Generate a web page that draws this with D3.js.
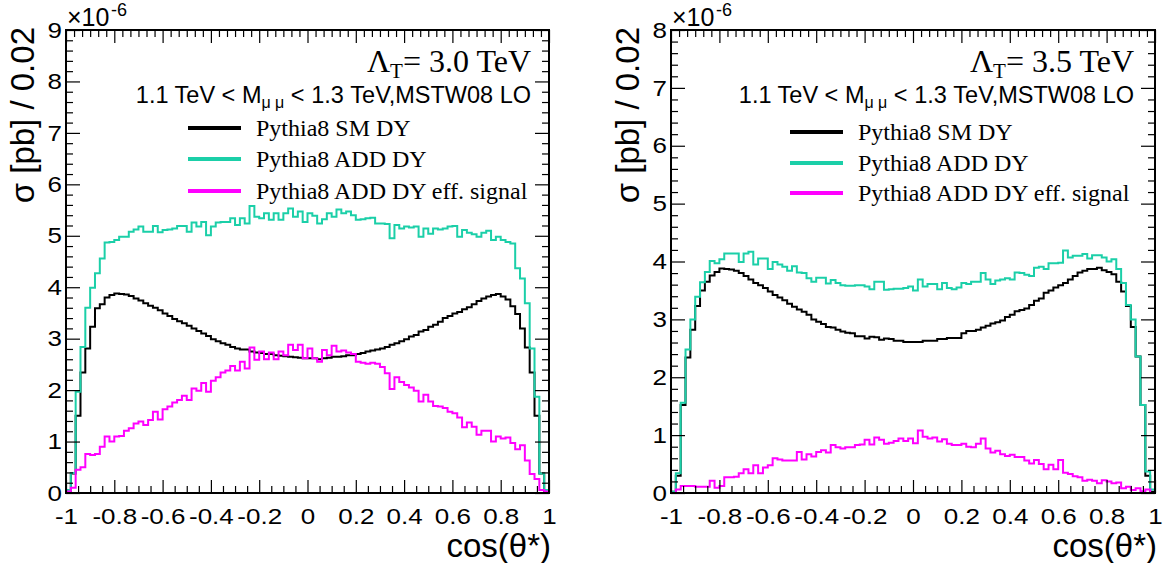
<!DOCTYPE html>
<html>
<head>
<meta charset="utf-8">
<script src="https://cdn.jsdelivr.net/npm/d3@7"></script>
<style>
  html, body { margin: 0; padding: 0; background: #ffffff; }
  svg { display: block; }
  text { white-space: pre; }
</style>
</head>
<body>
<svg id="canvas" width="1164" height="563"></svg>
<script>
// ---- binning: 100 bins of width 0.02 on cos(theta*) in [-1, 1] ----
const binLow = -1;
const binWidth = 0.02;

// ---- axis ticks and labels ----
const xTickValues = [-1, -0.8, -0.6, -0.4, -0.2, 0, 0.2, 0.4, 0.6, 0.8, 1];
const xTickLabels = ["-1", "-0.8", "-0.6", "-0.4", "-0.2", "0", "0.2", "0.4", "0.6", "0.8", "1"];
const yTickLabelsL = ["0", "1", "2", "3", "4", "5", "6", "7", "8", "9"];
const yTickLabelsR = ["0", "1", "2", "3", "4", "5", "6", "7", "8"];

// ---- text ----
const xTitle = "cos(\u03b8*)";
const yTitle = "\u03c3 [pb] / 0.02";
const lambdaLabels = ["= 3.0 TeV", "= 3.5 TeV"];
const seriesNames = ["Pythia8 SM DY", "Pythia8 ADD DY", "Pythia8 ADD DY eff. signal"];
const seriesColors = ["#000000", "#1bcfa8", "#ff00ff"];

// ---- Lambda_T = 3.0 TeV (units of 1e-6 pb per bin) ----
const smDY30 = [
  0.03, 0.38, 1.50, 2.34, 2.81, 3.23, 3.59, 3.67, 3.80, 3.85,
  3.88, 3.87, 3.86, 3.83, 3.78, 3.74, 3.69, 3.64, 3.60, 3.55,
  3.49, 3.44, 3.38, 3.34, 3.30, 3.25, 3.20, 3.15, 3.10, 3.05,
  2.99, 2.95, 2.91, 2.88, 2.84, 2.81, 2.79, 2.79, 2.75, 2.73,
  2.72, 2.70, 2.70, 2.68, 2.67, 2.66, 2.65, 2.64, 2.63, 2.62,
  2.62, 2.62, 2.60, 2.62, 2.63, 2.65, 2.65, 2.66, 2.68, 2.68,
  2.70, 2.72, 2.75, 2.77, 2.79, 2.81, 2.84, 2.88, 2.91, 2.95,
  2.99, 3.04, 3.07, 3.14, 3.17, 3.23, 3.27, 3.33, 3.40, 3.44,
  3.49, 3.52, 3.57, 3.61, 3.67, 3.73, 3.78, 3.82, 3.85, 3.87,
  3.82, 3.76, 3.63, 3.48, 3.20, 2.83, 2.34, 1.50, 0.38, 0.03
];
const addDY30 = [
  0.06, 0.39, 1.97, 2.84, 3.60, 3.99, 4.27, 4.56, 4.87, 4.88,
  4.92, 4.98, 4.98, 5.08, 5.12, 5.18, 5.08, 5.08, 5.19, 5.07,
  5.11, 5.12, 5.14, 5.19, 5.19, 5.08, 5.26, 5.18, 5.27, 5.01,
  5.18, 5.26, 5.27, 5.27, 5.34, 5.21, 5.34, 5.24, 5.58, 5.37,
  5.34, 5.44, 5.31, 5.44, 5.31, 5.44, 5.53, 5.37, 5.47, 5.27,
  5.44, 5.39, 5.24, 5.32, 5.44, 5.37, 5.51, 5.44, 5.47, 5.40,
  5.31, 5.32, 5.34, 5.35, 5.24, 5.24, 5.23, 4.95, 5.21, 5.14,
  5.18, 5.16, 5.18, 4.98, 5.14, 5.04, 5.14, 5.12, 5.14, 5.18,
  5.19, 4.98, 5.11, 5.06, 5.03, 4.98, 5.06, 5.10, 4.92, 4.98,
  4.92, 4.88, 4.85, 4.37, 4.17, 3.69, 2.81, 1.87, 0.38, 0.06
];
const effSig30 = [
  0.03, 0.10, 0.45, 0.50, 0.76, 0.74, 0.76, 0.90, 1.10, 1.00,
  1.10, 1.11, 1.21, 1.26, 1.35, 1.39, 1.32, 1.42, 1.58, 1.43,
  1.63, 1.68, 1.76, 1.81, 1.89, 1.81, 2.03, 1.99, 2.14, 1.97,
  2.18, 2.25, 2.34, 2.38, 2.47, 2.38, 2.55, 2.42, 2.83, 2.59,
  2.75, 2.60, 2.73, 2.60, 2.75, 2.68, 2.88, 2.78, 2.88, 2.62,
  2.81, 2.62, 2.55, 2.78, 2.68, 2.86, 2.75, 2.77, 2.73, 2.70,
  2.55, 2.53, 2.51, 2.53, 2.51, 2.45, 2.33, 2.02, 2.25, 2.16,
  2.10, 2.05, 1.99, 1.78, 1.91, 1.78, 1.69, 1.68, 1.65, 1.58,
  1.55, 1.47, 1.28, 1.37, 1.29, 1.13, 1.21, 1.21, 1.00, 1.10,
  1.06, 1.08, 0.97, 0.85, 0.93, 0.63, 0.37, 0.27, 0.06, 0.03
];

// ---- Lambda_T = 3.5 TeV (units of 1e-6 pb per bin) ----
const smDY35 = [
  0.02, 0.30, 1.52, 2.34, 2.82, 3.23, 3.50, 3.65, 3.76, 3.82,
  3.88, 3.87, 3.86, 3.84, 3.80, 3.75, 3.69, 3.63, 3.59, 3.54,
  3.48, 3.42, 3.38, 3.33, 3.27, 3.22, 3.17, 3.13, 3.08, 3.00,
  2.96, 2.92, 2.87, 2.86, 2.82, 2.79, 2.77, 2.76, 2.71, 2.71,
  2.67, 2.70, 2.69, 2.65, 2.67, 2.66, 2.63, 2.63, 2.61, 2.61,
  2.61, 2.61, 2.63, 2.63, 2.63, 2.66, 2.66, 2.68, 2.68, 2.68,
  2.76, 2.80, 2.80, 2.82, 2.86, 2.89, 2.93, 2.95, 2.98, 3.04,
  3.08, 3.14, 3.16, 3.19, 3.25, 3.32, 3.36, 3.46, 3.50, 3.55,
  3.59, 3.63, 3.69, 3.75, 3.81, 3.84, 3.87, 3.87, 3.89, 3.85,
  3.82, 3.78, 3.65, 3.48, 3.23, 2.87, 2.36, 1.52, 0.30, 0.02
];
const addDY35 = [
  0.02, 0.34, 1.56, 2.48, 3.00, 3.39, 3.64, 3.82, 4.01, 3.97,
  4.04, 4.14, 4.14, 4.14, 3.99, 4.14, 4.17, 3.95, 4.05, 4.05,
  3.87, 3.99, 3.95, 3.91, 3.84, 3.92, 3.81, 3.80, 3.71, 3.65,
  3.72, 3.72, 3.62, 3.68, 3.63, 3.59, 3.58, 3.58, 3.59, 3.59,
  3.57, 3.52, 3.65, 3.65, 3.51, 3.52, 3.53, 3.53, 3.54, 3.57,
  3.50, 3.69, 3.57, 3.61, 3.61, 3.52, 3.63, 3.54, 3.52, 3.55,
  3.63, 3.61, 3.65, 3.65, 3.80, 3.69, 3.61, 3.67, 3.69, 3.71,
  3.69, 3.81, 3.80, 3.77, 3.75, 3.89, 3.91, 3.87, 3.97, 3.97,
  3.98, 4.19, 4.07, 4.10, 4.10, 4.13, 4.05, 4.11, 4.11, 4.07,
  4.00, 4.04, 3.87, 3.63, 3.25, 3.00, 2.36, 1.52, 0.37, 0.06
];
const effSig35 = [
  0.00, 0.06, 0.12, 0.12, 0.12, 0.11, 0.11, 0.11, 0.21, 0.09,
  0.12, 0.27, 0.27, 0.28, 0.34, 0.41, 0.34, 0.48, 0.34, 0.44,
  0.48, 0.60, 0.58, 0.56, 0.56, 0.56, 0.71, 0.58, 0.67, 0.63,
  0.71, 0.74, 0.70, 0.83, 0.79, 0.77, 0.79, 0.79, 0.83, 0.84,
  0.92, 0.84, 0.96, 0.92, 0.85, 0.87, 0.90, 0.94, 0.90, 0.94,
  0.86, 1.08, 0.97, 0.94, 0.96, 0.89, 0.93, 0.85, 0.83, 0.83,
  0.85, 0.80, 0.79, 0.85, 0.94, 0.77, 0.70, 0.73, 0.67, 0.64,
  0.66, 0.62, 0.62, 0.56, 0.51, 0.57, 0.50, 0.41, 0.49, 0.41,
  0.57, 0.35, 0.33, 0.29, 0.27, 0.21, 0.23, 0.21, 0.17, 0.22,
  0.20, 0.17, 0.18, 0.08, 0.11, 0.05, 0.08, 0.03, 0.06, 0.00
];

const SANS = "'Liberation Sans', Arial, Helvetica, sans-serif";
const SERIF = "'Liberation Serif', 'Times New Roman', Times, serif";
const LABEL_SIZE = 26;
const LABEL_SQUEEZE = 0.86;

const svg = d3.select("#canvas");
svg.append("rect").attr("width", 1164).attr("height", 563).attr("fill", "#ffffff");

// values between majors, skipping the majors themselves
function minorValues(lo, hi, step, every) {
  const out = [];
  const n = Math.round((hi - lo) / step);
  for (let i = 0; i <= n; i++) if (i % every !== 0) out.push(lo + i * step);
  return out;
}

function styleAxis(g) {
  g.select(".domain").remove();
  g.selectAll(".tick line").attr("stroke", "#000").attr("stroke-width", 1.2);
}

function drawPanel(p) {
  const x = d3.scaleLinear().domain([-1, 1]).range([p.left, p.right]);
  const y = d3.scaleLinear().domain([0, p.ymax]).range([p.bottom, p.top]);
  const g = svg.append("g");

  // histograms as step outlines
  const line = d3.line().x(d => x(d[0])).y(d => y(d[1])).curve(d3.curveStepAfter);
  p.series.forEach((vals, s) => {
    const pts = [[binLow, 0]];
    vals.forEach((v, i) => pts.push([binLow + i * binWidth, v]));
    pts.push([binLow + vals.length * binWidth, vals[vals.length - 1]]);
    pts.push([binLow + vals.length * binWidth, 0]);
    g.append("path")
      .attr("d", line(pts))
      .attr("fill", "none")
      .attr("stroke", seriesColors[s])
      .attr("stroke-width", 2)
      .attr("stroke-linejoin", "miter");
  });

  const yMajors = d3.range(0, p.ymax + 1);
  const yMinors = minorValues(0, p.ymax, 0.2, 5);
  const xMinors = minorValues(-1, 1, 0.05, 4);
  const xTopMinors = minorValues(-1, 1, 0.2 / 6, 6);

  // bottom axis
  g.append("g").attr("transform", `translate(0,${p.bottom})`)
    .call(d3.axisBottom(x).tickValues(xMinors).tickSize(-7).tickFormat(""))
    .call(styleAxis);
  g.append("g").attr("transform", `translate(0,${p.bottom})`)
    .call(d3.axisBottom(x).tickValues(xTickValues).tickSize(-13).tickPadding(0)
      .tickFormat((d, i) => xTickLabels[i]))
    .call(styleAxis)
    .call(a => a.selectAll("text")
      .attr("font-family", SANS).attr("font-size", LABEL_SIZE).attr("fill", "#000")
      .attr("y", 0)
      .attr("transform", `translate(0,15) scale(1,${LABEL_SQUEEZE})`));

  // top axis
  g.append("g").attr("transform", `translate(0,${p.top})`)
    .call(d3.axisTop(x).tickValues(xTopMinors).tickSize(-7).tickFormat(""))
    .call(styleAxis);
  g.append("g").attr("transform", `translate(0,${p.top})`)
    .call(d3.axisTop(x).tickValues(xTickValues).tickSize(-13).tickFormat(""))
    .call(styleAxis);

  // left axis
  g.append("g").attr("transform", `translate(${p.left},0)`)
    .call(d3.axisLeft(y).tickValues(yMinors).tickSize(-7).tickFormat(""))
    .call(styleAxis);
  g.append("g").attr("transform", `translate(${p.left},0)`)
    .call(d3.axisLeft(y).tickValues(yMajors).tickSize(-14).tickPadding(0)
      .tickFormat((d, i) => p.yLabels[i]))
    .call(styleAxis)
    .call(a => a.selectAll("text")
      .attr("font-family", SANS).attr("font-size", LABEL_SIZE).attr("fill", "#000")
      .attr("x", 0)
      .attr("transform", `translate(-4,0) scale(1,${LABEL_SQUEEZE})`));

  // right axis
  g.append("g").attr("transform", `translate(${p.right},0)`)
    .call(d3.axisRight(y).tickValues(yMinors).tickSize(-7).tickFormat(""))
    .call(styleAxis);
  g.append("g").attr("transform", `translate(${p.right},0)`)
    .call(d3.axisRight(y).tickValues(yMajors).tickSize(-14).tickFormat(""))
    .call(styleAxis);

  // frame
  g.append("rect")
    .attr("x", p.left).attr("y", p.top)
    .attr("width", p.right - p.left).attr("height", p.bottom - p.top)
    .attr("fill", "none").attr("stroke", "#000").attr("stroke-width", 2);

  // exponent
  g.append("text").attr("x", p.left + 1).attr("y", 26)
    .attr("font-family", SANS).attr("font-size", 25).text("\u00d710");
  g.append("text").attr("x", p.left + 45).attr("y", 16)
    .attr("font-family", SANS).attr("font-size", 18).text("-6");

  // axis titles
  g.append("text").attr("x", p.right + 2).attr("y", 557)
    .attr("text-anchor", "end").attr("font-family", SANS).attr("font-size", 33)
    .text(xTitle);
  g.append("text")
    .attr("transform", `translate(${p.left - 32},27) rotate(-90)`)
    .attr("text-anchor", "end").attr("font-family", SANS).attr("font-size", 33)
    .text(yTitle);

  // Lambda_T label
  const lt = g.append("text").attr("x", p.textRight).attr("y", 72)
    .attr("text-anchor", "end").attr("font-family", SERIF).attr("font-size", 32);
  lt.append("tspan").text("\u039b");
  lt.append("tspan").attr("font-size", 21).attr("dy", 6).text("T");
  lt.append("tspan").attr("dy", -6).text(p.lambda);

  // mass window / PDF label
  const mt = g.append("text").attr("x", p.textRight).attr("y", 103)
    .attr("text-anchor", "end").attr("font-family", SANS).attr("font-size", 23.5);
  mt.append("tspan").text("1.1 TeV < M");
  mt.append("tspan").attr("font-size", 16).attr("dy", 5).text("\u03bc \u03bc");
  mt.append("tspan").attr("dy", -5).text(" < 1.3 TeV,MSTW08 LO");

  // legend
  seriesNames.forEach((name, s) => {
    const ly = p.legendY[s];
    g.append("line")
      .attr("x1", p.legendX).attr("x2", p.legendX + 53)
      .attr("y1", ly).attr("y2", ly)
      .attr("stroke", seriesColors[s]).attr("stroke-width", 4);
    g.append("text")
      .attr("x", p.legendX + 68).attr("y", ly + 8)
      .attr("font-family", SERIF).attr("font-size", 24)
      .text(name);
  });
}

drawPanel({
  left: 66, right: 549, top: 30, bottom: 493, ymax: 9,
  yLabels: yTickLabelsL,
  series: [smDY30, addDY30, effSig30],
  lambda: lambdaLabels[0],
  textRight: 531,
  legendX: 188, legendY: [128, 159, 191]
});

drawPanel({
  left: 671, right: 1155, top: 30, bottom: 493, ymax: 8,
  yLabels: yTickLabelsR,
  series: [smDY35, addDY35, effSig35],
  lambda: lambdaLabels[1],
  textRight: 1134,
  legendX: 790, legendY: [132, 163, 193]
});
</script>
</body>
</html>
